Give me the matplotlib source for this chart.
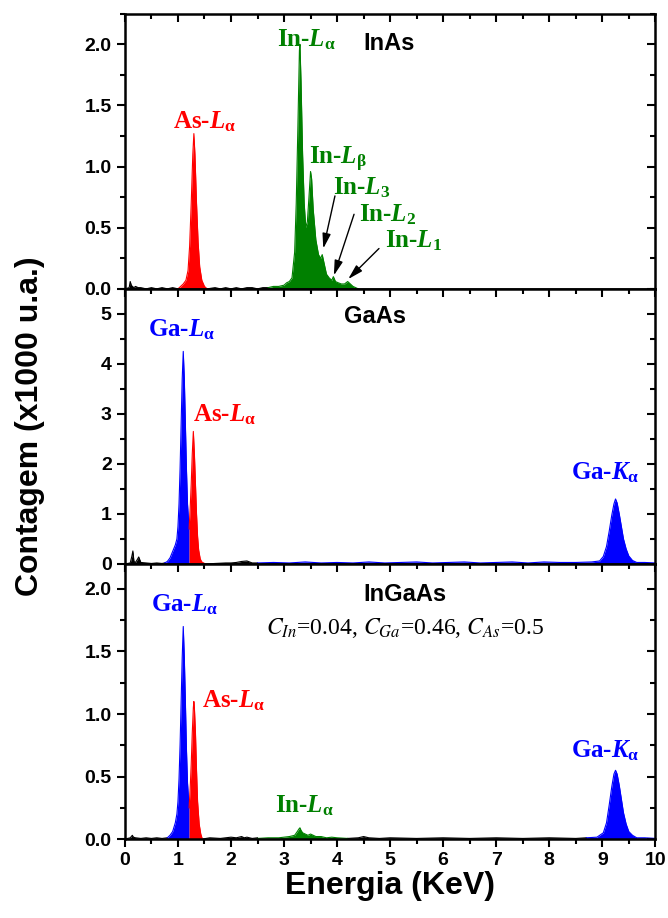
import numpy as np
import matplotlib
matplotlib.use('Agg')
import matplotlib.pyplot as plt
from matplotlib.ticker import MultipleLocator, FormatStrFormatter

# EDS spectra (counts in x1000 u.a., energy in keV)

# --- InAs ---
inas_bg_e = [0.0, 0.08, 0.1, 0.12, 0.14, 0.17, 0.2, 0.25, 0.3, 0.4, 0.5, 0.6, 0.7, 0.8, 0.9, 1.0]
inas_bg_c = [0.0, 0.01, 0.06, 0.03, 0.02, 0.01, 0.02, 0.01, 0.01, 0.0, 0.01, 0.0, 0.01, 0.0, 0.01, 0.0]
inas_as_e = [1.0, 1.05, 1.1, 1.15, 1.19, 1.22, 1.25, 1.28, 1.30, 1.32, 1.35, 1.38, 1.41, 1.45, 1.5, 1.55]
inas_as_c = [0.0, 0.02, 0.04, 0.07, 0.15, 0.35, 0.7, 1.1, 1.27, 1.1, 0.7, 0.38, 0.18, 0.07, 0.02, 0.0]
inas_bg2_e = [1.55, 1.7, 1.8, 1.9, 2.0, 2.1, 2.2, 2.3, 2.4, 2.5, 2.6, 2.7]
inas_bg2_c = [0.0, 0.01, 0.0, 0.01, 0.0, 0.01, 0.0, 0.01, 0.01, 0.0, 0.01, 0.01]
inas_in_e = [2.7, 2.8, 2.9, 3.0, 3.05, 3.1, 3.15, 3.2, 3.23, 3.26, 3.29, 3.30, 3.32, 3.35,
             3.38, 3.41, 3.44, 3.47, 3.50, 3.52, 3.55, 3.6, 3.65, 3.69, 3.72, 3.76,
             3.8, 3.85, 3.9, 3.93, 3.97, 4.02, 4.08, 4.14, 4.2, 4.25, 4.3, 4.4]
inas_in_c = [0.01, 0.02, 0.02, 0.03, 0.05, 0.06, 0.09, 0.3, 0.7, 1.3, 1.95, 2.0, 1.7, 1.1,
             0.7, 0.5, 0.55, 0.75, 0.96, 0.9, 0.65, 0.4, 0.28, 0.25, 0.28, 0.2,
             0.12, 0.09, 0.07, 0.1, 0.06, 0.05, 0.04, 0.04, 0.06, 0.04, 0.02, 0.0]
inas_bg3_e = [4.4, 5.0, 6.0, 7.0, 8.0, 9.0, 10.0]
inas_bg3_c = [0.0, 0.0, 0.0, 0.0, 0.0, 0.0, 0.0]

# --- GaAs ---
gaas_bg_e = [0.0, 0.1, 0.13, 0.15, 0.17, 0.2, 0.24, 0.26, 0.3, 0.4, 0.5, 0.6, 0.7, 0.75]
gaas_bg_c = [0.0, 0.02, 0.15, 0.26, 0.05, 0.03, 0.1, 0.14, 0.03, 0.02, 0.01, 0.02, 0.01, 0.02]
gaas_ga_e = [0.75, 0.8, 0.85, 0.9, 0.95, 0.98, 1.0, 1.02, 1.04, 1.06, 1.08, 1.10, 1.12, 1.14, 1.16, 1.18, 1.21]
gaas_ga_c = [0.02, 0.05, 0.12, 0.25, 0.38, 0.5, 0.75, 1.2, 1.9, 2.8, 3.7, 4.25, 3.7, 2.8, 1.9, 1.2, 0.7]
gaas_as_e = [1.21, 1.23, 1.25, 1.27, 1.29, 1.31, 1.33, 1.35, 1.37, 1.39, 1.42, 1.45, 1.5, 1.55]
gaas_as_c = [0.7, 1.1, 1.6, 2.2, 2.65, 2.2, 1.6, 1.0, 0.55, 0.28, 0.1, 0.04, 0.01, 0.0]
gaas_bg2_e = [1.55, 1.7, 1.9, 2.0, 2.1, 2.2, 2.3, 2.35, 2.4, 2.5]
gaas_bg2_c = [0.0, 0.01, 0.02, 0.02, 0.03, 0.05, 0.06, 0.04, 0.02, 0.02]
gaas_bl_e = [2.5, 2.8, 3.1, 3.4, 3.7, 4.0, 4.3, 4.6, 4.9, 5.2, 5.5, 5.8, 6.1, 6.4, 6.7, 7.0, 7.3,
             7.6, 7.9, 8.2, 8.5, 8.8, 8.95, 9.02, 9.08, 9.13, 9.18, 9.22, 9.25, 9.28, 9.32, 9.36,
             9.4, 9.45, 9.5, 9.57, 9.65, 9.8, 10.0]
gaas_bl_c = [0.02, 0.03, 0.02, 0.04, 0.02, 0.03, 0.02, 0.04, 0.02, 0.03, 0.04, 0.02, 0.03, 0.04, 0.02, 0.03, 0.04,
             0.02, 0.04, 0.03, 0.03, 0.04, 0.06, 0.15, 0.35, 0.65, 0.98, 1.2, 1.3, 1.22, 1.0, 0.75,
             0.5, 0.3, 0.16, 0.07, 0.03, 0.03, 0.02]

# --- InGaAs ---
ingaas_bg_e = [0.0, 0.1, 0.14, 0.16, 0.2, 0.3, 0.4, 0.5, 0.6, 0.7, 0.8]
ingaas_bg_c = [0.0, 0.01, 0.03, 0.015, 0.01, 0.005, 0.01, 0.005, 0.01, 0.005, 0.01]
ingaas_ga_e = [0.8, 0.85, 0.9, 0.95, 0.98, 1.0, 1.02, 1.04, 1.06, 1.08, 1.10, 1.12, 1.14, 1.16, 1.18, 1.21]
ingaas_ga_c = [0.01, 0.03, 0.06, 0.13, 0.2, 0.3, 0.48, 0.75, 1.1, 1.45, 1.7, 1.45, 1.1, 0.72, 0.45, 0.25]
ingaas_as_e = [1.21, 1.23, 1.25, 1.27, 1.29, 1.30, 1.31, 1.33, 1.35, 1.37, 1.4, 1.43, 1.46]
ingaas_as_c = [0.25, 0.4, 0.6, 0.85, 1.05, 1.1, 1.05, 0.85, 0.55, 0.3, 0.12, 0.04, 0.0]
ingaas_bg2_e = [1.46, 1.6, 1.8, 1.9, 2.0, 2.1, 2.2, 2.25, 2.3, 2.4, 2.5]
ingaas_bg2_c = [0.0, 0.01, 0.005, 0.01, 0.015, 0.01, 0.02, 0.01, 0.015, 0.005, 0.01]
ingaas_in_e = [2.5, 2.7, 2.9, 3.0, 3.1, 3.2, 3.25, 3.28, 3.3, 3.32, 3.35, 3.4, 3.45, 3.5, 3.55,
               3.6, 3.7, 3.8, 3.9, 4.0, 4.2]
ingaas_in_c = [0.005, 0.01, 0.01, 0.015, 0.02, 0.03, 0.06, 0.08, 0.09, 0.07, 0.05, 0.04, 0.03, 0.04, 0.03,
               0.02, 0.02, 0.01, 0.015, 0.01, 0.005]
ingaas_bg3_e = [4.2, 4.4, 4.5, 4.6, 4.8, 5.0, 5.5, 6.0, 6.5, 7.0, 7.5, 8.0, 8.5, 8.7]
ingaas_bg3_c = [0.005, 0.01, 0.02, 0.01, 0.005, 0.01, 0.005, 0.01, 0.005, 0.01, 0.005, 0.01, 0.005, 0.01]
ingaas_gak_e = [8.7, 8.9, 9.02, 9.08, 9.13, 9.18, 9.22, 9.25, 9.28, 9.32, 9.36, 9.4, 9.45, 9.5, 9.57, 9.65, 9.8, 10.0]
ingaas_gak_c = [0.01, 0.015, 0.05, 0.13, 0.27, 0.42, 0.52, 0.55, 0.52, 0.43, 0.32, 0.21, 0.12, 0.06, 0.03, 0.01, 0.01, 0.005]

RED = '#ff0000'
BLUE = '#0000ff'
GREEN = '#008000'

plt.rcParams['font.family'] = ['Liberation Sans', 'DejaVu Sans']
plt.rcParams['mathtext.fontset'] = 'custom'
plt.rcParams['mathtext.rm'] = 'Liberation Serif:bold'
plt.rcParams['mathtext.it'] = 'Liberation Serif:italic:bold'
plt.rcParams['mathtext.bf'] = 'Liberation Serif:bold'


def spec(ax, e, c, col):
    ax.fill_between(e, 0, c, color=col, lw=0)
    ax.plot(e, c, color=col, lw=0.8)


def peak_label(ax, x, y, s, col, ha='center'):
    ax.text(x, y, s, color=col, fontsize=18, fontweight='bold',
            family='Liberation Serif', ha=ha, va='baseline')


fig = plt.figure(figsize=(6.68, 9.18), dpi=100)
gs = fig.add_gridspec(3, 1, left=0.187, right=0.981, bottom=0.086, top=0.985, hspace=0)
ax1 = fig.add_subplot(gs[0])
ax2 = fig.add_subplot(gs[1], sharex=ax1)
ax3 = fig.add_subplot(gs[2], sharex=ax1)

# InAs
spec(ax1, inas_bg_e, inas_bg_c, 'black')
spec(ax1, inas_bg2_e, inas_bg2_c, 'black')
spec(ax1, inas_bg3_e, inas_bg3_c, 'black')
spec(ax1, inas_as_e, inas_as_c, RED)
spec(ax1, inas_in_e, inas_in_c, GREEN)
peak_label(ax1, 1.5, 1.31, r'As-$L_\mathrm{\alpha}$', RED)
peak_label(ax1, 3.42, 1.98, r'In-$L_\mathrm{\alpha}$', GREEN)
peak_label(ax1, 3.47, 1.02, r'In-$L_\mathrm{\beta}$', GREEN, ha='left')
peak_label(ax1, 3.92, 0.77, r'In-$L_\mathrm{3}$', GREEN, ha='left')
peak_label(ax1, 4.42, 0.55, r'In-$L_\mathrm{2}$', GREEN, ha='left')
peak_label(ax1, 4.9, 0.34, r'In-$L_\mathrm{1}$', GREEN, ha='left')
ax1.text(4.98, 1.95, 'InAs', fontsize=17, fontweight='bold', ha='center', va='baseline')
arr = dict(arrowstyle='-|>,head_length=0.9,head_width=0.25', color='black', lw=1.0, shrinkA=0, shrinkB=0)
ax1.annotate('', xy=(3.74, 0.33), xytext=(3.96, 0.76), arrowprops=arr)
ax1.annotate('', xy=(3.94, 0.11), xytext=(4.32, 0.61), arrowprops=arr)
ax1.annotate('', xy=(4.21, 0.08), xytext=(4.79, 0.33), arrowprops=arr)
ax1.set_ylim(0, 2.25)

# GaAs
spec(ax2, gaas_bg_e, gaas_bg_c, 'black')
spec(ax2, gaas_bg2_e, gaas_bg2_c, 'black')
spec(ax2, gaas_bl_e, gaas_bl_c, BLUE)
spec(ax2, gaas_ga_e, gaas_ga_c, BLUE)
spec(ax2, gaas_as_e, gaas_as_c, RED)
peak_label(ax2, 1.06, 4.54, r'Ga-$L_\mathrm{\alpha}$', BLUE)
peak_label(ax2, 1.87, 2.86, r'As-$L_\mathrm{\alpha}$', RED)
peak_label(ax2, 9.05, 1.7, r'Ga-$K_\mathrm{\alpha}$', BLUE)
ax2.text(4.72, 4.82, 'GaAs', fontsize=17, fontweight='bold', ha='center', va='baseline')
ax2.set_ylim(0, 5.5)

# InGaAs
spec(ax3, ingaas_bg_e, ingaas_bg_c, 'black')
spec(ax3, ingaas_bg2_e, ingaas_bg2_c, 'black')
spec(ax3, ingaas_bg3_e, ingaas_bg3_c, 'black')
spec(ax3, ingaas_ga_e, ingaas_ga_c, BLUE)
spec(ax3, ingaas_as_e, ingaas_as_c, RED)
spec(ax3, ingaas_in_e, ingaas_in_c, GREEN)
spec(ax3, ingaas_gak_e, ingaas_gak_c, BLUE)
peak_label(ax3, 1.13, 1.82, r'Ga-$L_\mathrm{\alpha}$', BLUE)
peak_label(ax3, 2.04, 1.05, r'As-$L_\mathrm{\alpha}$', RED)
peak_label(ax3, 3.38, 0.21, r'In-$L_\mathrm{\alpha}$', GREEN)
peak_label(ax3, 9.05, 0.65, r'Ga-$K_\mathrm{\alpha}$', BLUE)
ax3.text(5.28, 1.9, 'InGaAs', fontsize=17, fontweight='bold', ha='center', va='baseline')
ax3.text(5.28, 1.64, r'$C_{In}$=0.04, $C_{Ga}$=0.46, $C_{As}$=0.5', fontsize=17,
         fontweight='normal', family='Liberation Serif', math_fontfamily='stix',
         ha='center', va='baseline')
ax3.set_ylim(0, 2.2)

ax3.set_xlim(0, 10)
for ax, maj, mn, fmt in [(ax1, 0.5, 0.25, '%.1f'), (ax2, 1, 0.5, '%d'), (ax3, 0.5, 0.25, '%.1f')]:
    ax.yaxis.set_major_locator(MultipleLocator(maj))
    ax.yaxis.set_minor_locator(MultipleLocator(mn))
    ax.yaxis.set_major_formatter(FormatStrFormatter(fmt))
    ax.xaxis.set_major_locator(MultipleLocator(1))
    ax.xaxis.set_minor_locator(MultipleLocator(0.5))
    for s in ax.spines.values():
        s.set_linewidth(1.8)
    ax.tick_params(axis='both', which='major', length=6, width=1.5, labelsize=14)
    ax.tick_params(axis='both', which='minor', length=3.5, width=1.5)
    ax.tick_params(axis='y', which='both', left=True, right=True, direction='out')
    ax.tick_params(axis='x', which='both', bottom=True, top=True, direction='out')
    for lab in ax.get_yticklabels() + ax.get_xticklabels():
        lab.set_fontweight('bold')

# right and top ticks point inward
for ax in (ax1, ax2, ax3):
    for t in ax.yaxis.get_major_ticks() + ax.yaxis.get_minor_ticks():
        t.tick2line.set_marker(0)
    for t in ax.xaxis.get_major_ticks() + ax.xaxis.get_minor_ticks():
        t.tick2line.set_marker(3)

ax1.tick_params(axis='x', labelbottom=False)
ax2.tick_params(axis='x', labelbottom=False)

fig.text(0.045, 0.536, 'Contagem (x1000 u.a.)', rotation=90, fontsize=23,
         fontweight='bold', ha='center', va='center')
fig.text(0.584, 0.035, 'Energia (KeV)', fontsize=23, fontweight='bold',
         ha='center', va='center')

plt.savefig('out.png', dpi=100)
